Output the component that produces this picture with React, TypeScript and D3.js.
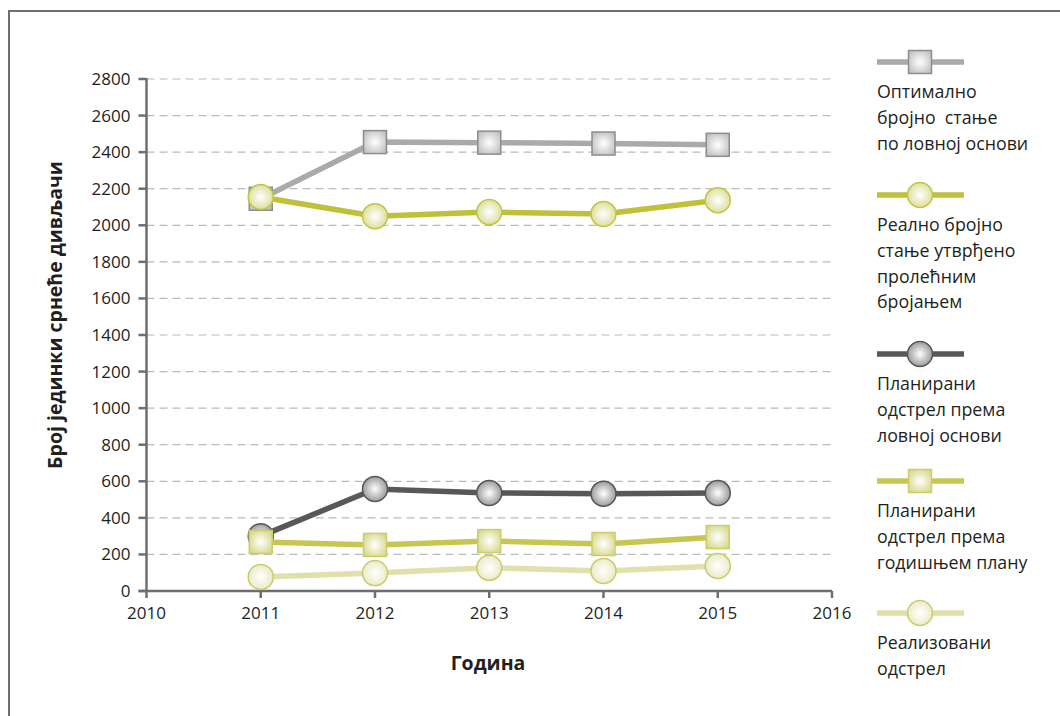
import React from "react";
import * as d3 from "d3";

const years = [2011, 2012, 2013, 2014, 2015];
const optimalno = [2145, 2455, 2452, 2447, 2440];
const realno = [2155, 2050, 2072, 2062, 2137];
const planiraniLovna = [300, 558, 536, 532, 536];
const planiraniGodisnji = [268, 252, 273, 257, 295];
const realizovani = [77, 98, 127, 110, 137];
const yTicks = [0, 200, 400, 600, 800, 1000, 1200, 1400, 1600, 1800, 2000, 2200, 2400, 2600, 2800];
const xTicks = [2010, 2011, 2012, 2013, 2014, 2015, 2016];

const seriesNames = [
  ["Оптимално", "бројно  стање", "по ловној основи"],
  ["Реално бројно", "стање утврђено", "пролећним", "бројањем"],
  ["Планирани", "одстрел према", "ловној основи"],
  ["Планирани", "одстрел према", "годишњем плану"],
  ["Реализовани", "одстрел"],
];

type Style = { line: string; marker: "square" | "circle"; grad: string; stroke: string };
const styles: Style[] = [
  { line: "#a9aaac", marker: "square", grad: "gGray", stroke: "#8c8d90" },
  { line: "#bfc13a", marker: "circle", grad: "gYellow", stroke: "#c2c440" },
  { line: "#58585a", marker: "circle", grad: "gDark", stroke: "#555658" },
  { line: "#c5c752", marker: "square", grad: "gYellowSq", stroke: "#cccd6a" },
  { line: "#dfe0ab", marker: "circle", grad: "gLight", stroke: "#c9cb6a" },
];
const allSeries = [optimalno, realno, planiraniLovna, planiraniGodisnji, realizovani];

const FONT = "'Open Sans', 'DejaVu Sans', sans-serif";
const TEXT = "#231f20";

function Marker({ s, x, y }: { s: Style; x: number; y: number }) {
  if (s.marker === "square") {
    return <rect x={x - 11.5} y={y - 11.5} width={23} height={23} fill={`url(#${s.grad})`} stroke={s.stroke} strokeWidth={1.5} />;
  }
  return <circle cx={x} cy={y} r={12.5} fill={`url(#${s.grad})`} stroke={s.stroke} strokeWidth={1.5} />;
}

export default function App() {
  const x = d3.scaleLinear().domain([2010, 2016]).range([146.5, 832]);
  const y = d3.scaleLinear().domain([0, 2800]).range([591, 79]);
  const line = d3
    .line<number>()
    .x((_, i) => x(years[i]))
    .y((d) => y(d));

  const legendY = [62, 195, 354, 481, 613];

  return (
    <svg width={1060} height={716} style={{ position: "absolute", left: 0, top: 0, background: "#fff" }} fontFamily={FONT}>
      <defs>
        {[
          ["gGray", "#ffffff", "#bfc0c2"],
          ["gYellow", "#ffffff", "#d7d98c"],
          ["gDark", "#ffffff", "#87888b"],
          ["gYellowSq", "#ffffff", "#d6d88a"],
          ["gLight", "#ffffff", "#e6e8bd"],
        ].map(([id, c0, c1]) => (
          <radialGradient key={id} id={id} cx="50%" cy="50%" r="60%">
            <stop offset="0%" stopColor={c0} />
            <stop offset="100%" stopColor={c1} />
          </radialGradient>
        ))}
      </defs>
      {/* frame */}
      <path d="M9,716 V11 H1060" fill="none" stroke="#6d6e71" strokeWidth={2} />

      {/* gridlines */}
      {yTicks.filter((t) => t > 0).map((t) => (
        <line key={t} x1={x(2010)} x2={x(2016)} y1={y(t)} y2={y(t)} stroke="#b9babb" strokeWidth={1.2} strokeDasharray="8,5" />
      ))}

      {/* axes */}
      <line x1={x(2010)} x2={x(2010)} y1={y(2800) - 1} y2={y(0) + 1} stroke="#6d6e71" strokeWidth={2.5} />
      <line x1={x(2010) - 8} x2={x(2016)} y1={y(0)} y2={y(0)} stroke="#6d6e71" strokeWidth={2.5} />
      {yTicks.map((t) => (
        <g key={t}>
          <line x1={x(2010) - 8} x2={x(2010)} y1={y(t)} y2={y(t)} stroke="#6d6e71" strokeWidth={2.5} />
          <text x={x(2010) - 16} y={y(t)} dy="0.35em" textAnchor="end" fontSize={17} fill={TEXT}>
            {t}
          </text>
        </g>
      ))}
      {xTicks.map((t) => (
        <g key={t}>
          <line x1={x(t)} x2={x(t)} y1={y(0)} y2={y(0) + 7} stroke="#6d6e71" strokeWidth={2.5} />
          <text x={x(t)} y={y(0) + 28} textAnchor="middle" fontSize={17} fill={TEXT}>
            {t}
          </text>
        </g>
      ))}

      <text transform={`translate(62,315) rotate(-90)`} textAnchor="middle" fontSize={19.5} fontWeight="bold" fill={TEXT}>
        Број јединки срнеће дивљачи
      </text>
      <text x={488} y={670} textAnchor="middle" fontSize={19.5} fontWeight="bold" fill={TEXT}>
        Година
      </text>

      {/* series */}
      {allSeries.map((vals, si) => (
        <g key={si}>
          <path d={line(vals) || ""} fill="none" stroke={styles[si].line} strokeWidth={5.5} />
          {vals.map((v, i) => (
            <Marker key={i} s={styles[si]} x={x(years[i])} y={y(v)} />
          ))}
        </g>
      ))}

      {/* legend */}
      {seriesNames.map((names, si) => (
        <g key={si}>
          <line x1={877} x2={964} y1={legendY[si]} y2={legendY[si]} stroke={styles[si].line} strokeWidth={5.5} />
          <Marker s={styles[si]} x={920} y={legendY[si]} />
          {names.map((n, li) => (
            <text key={li} x={877} y={legendY[si] + 30 + li * 25.7} dy="0.35em" fontSize={17.8} fill={TEXT} style={{ whiteSpace: "pre" }}>
              {n}
            </text>
          ))}
        </g>
      ))}
    </svg>
  );
}
